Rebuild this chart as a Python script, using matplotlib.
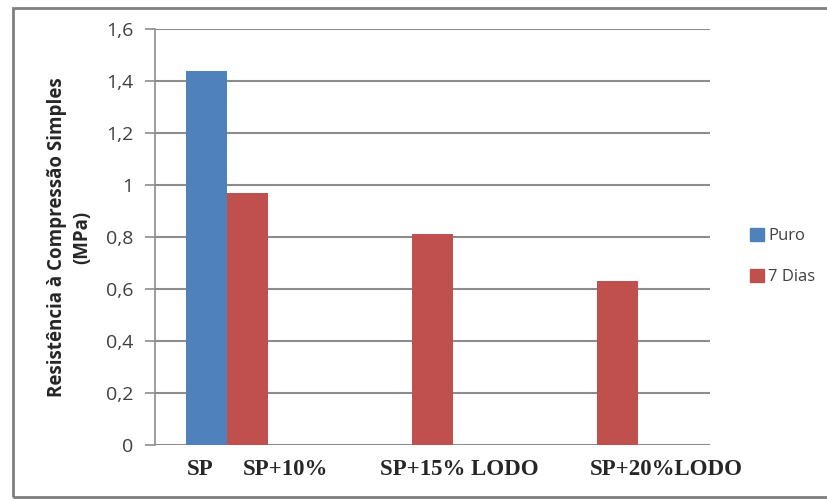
import matplotlib
matplotlib.use("Agg")
import matplotlib.pyplot as plt
from matplotlib.patches import Rectangle, Patch

# data
groups = [0, 1, 2]
puro_vals = [1.44]
dias7_vals = [0.97, 0.81, 0.63]
xlabels = ["SP", "SP+10%", "SP+15% LODO", "SP+20%LODO"]
xlabel_pos = [-0.257, 0.203, 1.143, 2.262]
yticks = [0, 0.2, 0.4, 0.6, 0.8, 1.0, 1.2, 1.4, 1.6]
ytick_labels = ["0", "0,2", "0,4", "0,6", "0,8", "1", "1,2", "1,4", "1,6"]

blue = "#4F81BD"
red = "#C0504D"
grid_c = "#8C8C8C"
txt_c = "#404040"

fig = plt.figure(figsize=(8.28, 4.99), dpi=100)

# outer chart frame (right edge runs off the image)
fig.patches.append(Rectangle((13 / 828, 2 / 499), 830 / 828, 489 / 499,
                             transform=fig.transFigure, fill=False,
                             edgecolor="#7F7F7F", linewidth=2))

ax = fig.add_axes([155 / 828, 1 - 445 / 499, 555 / 828, 416 / 499])

w = 0.22
ax.bar([groups[0] - w], puro_vals, width=w, color=blue, zorder=3)
ax.bar(groups, dias7_vals, width=w, color=red, zorder=3)

ax.set_xlim(-0.5, 2.5)
ax.set_ylim(0, 1.6)
ax.set_yticks(yticks)
ax.set_yticklabels(ytick_labels, fontsize=14, color=txt_c, family="Open Sans")
ax.tick_params(axis="y", length=7, width=1.2, color=grid_c, pad=8.5)
ax.set_xticks(xlabel_pos)
ax.set_xticklabels(xlabels, fontsize=16.5, fontweight="bold",
                   family="Liberation Serif", color="#262626")
ax.tick_params(axis="x", length=0, pad=10)

for y in yticks:
    ax.axhline(y, color=grid_c, linewidth=1.5, zorder=1)

for s in ["top", "right", "bottom"]:
    ax.spines[s].set_visible(False)
ax.spines["left"].set_color(grid_c)
ax.spines["left"].set_linewidth(1.2)

ax.set_ylabel("Resistência à Compressão Simples\n(MPa)", fontsize=13.5,
              fontweight="bold", family="Open Sans", color="#262626",
              linespacing=1.3)
ax.yaxis.set_label_coords((92 - 155) / 555, 0.5)

handles = [Patch(color=blue, label="Puro"), Patch(color=red, label="7 Dias")]
fig.legend(handles=handles, loc="upper left", bbox_to_anchor=(735 / 828, 1 - 213 / 499),
           frameon=False, handlelength=0.85, handleheight=0.85,
           handletextpad=0.25, labelspacing=1.45, prop={"family": "Open Sans", "size": 12},
           labelcolor=txt_c)

fig.savefig("out.png", dpi=100)
